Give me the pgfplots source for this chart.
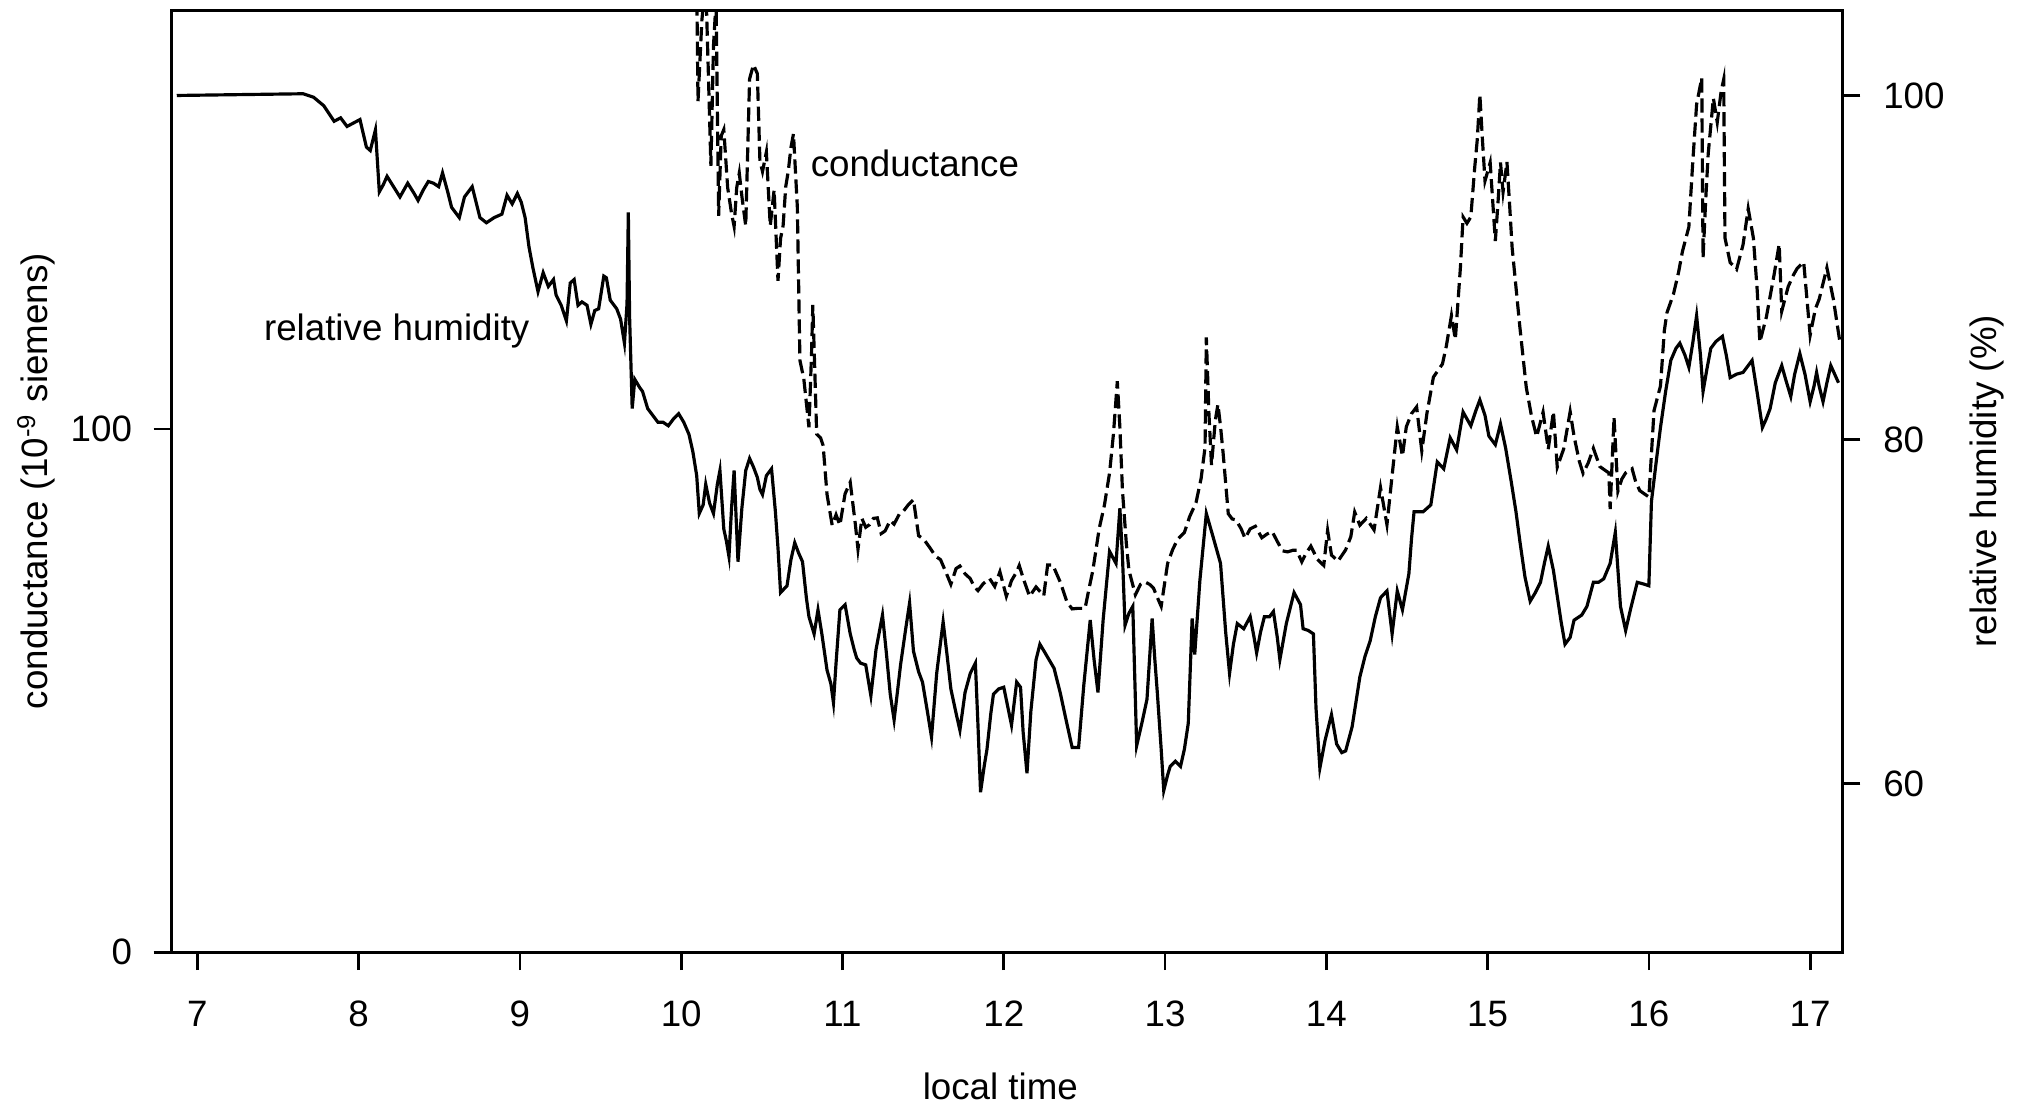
\documentclass[border=0pt]{standalone}
\usepackage{fontspec}
\setmainfont{Liberation Sans}
\usepackage{pgfplots}
\pgfplotsset{compat=1.18}
\usepackage{pgfplotstable}

\pgfplotstableread{
t rh
6.872 100.0
7.656 100.1
7.720 99.9
7.784 99.4
7.848 98.5
7.888 98.7
7.928 98.2
7.968 98.4
8.008 98.6
8.048 97.0
8.072 96.8
8.104 98.0
8.128 94.4
8.152 94.8
8.176 95.3
8.216 94.7
8.256 94.1
8.304 94.9
8.344 94.3
8.368 93.9
8.400 94.5
8.432 95.0
8.464 94.9
8.496 94.7
8.520 95.5
8.552 94.4
8.576 93.5
8.600 93.2
8.624 92.9
8.656 94.1
8.704 94.7
8.728 93.8
8.752 92.9
8.792 92.6
8.840 92.9
8.888 93.1
8.920 94.2
8.952 93.7
8.984 94.3
9.008 93.8
9.032 92.9
9.056 91.2
9.080 90.0
9.112 88.6
9.144 89.7
9.176 88.9
9.208 89.3
9.224 88.4
9.256 87.8
9.288 86.9
9.312 89.1
9.336 89.3
9.360 87.8
9.384 88.0
9.416 87.8
9.440 86.7
9.464 87.5
9.488 87.6
9.520 89.5
9.536 89.4
9.560 88.1
9.600 87.6
9.624 87.0
9.648 85.6
9.664 87.9
9.672 93.2
9.680 87.1
9.696 81.8
9.712 83.5
9.744 83.0
9.760 82.8
9.792 81.8
9.824 81.4
9.856 81.0
9.888 81.0
9.920 80.8
9.952 81.2
9.984 81.5
10.016 81.0
10.048 80.3
10.072 79.3
10.096 77.9
10.112 75.7
10.136 76.2
10.152 77.4
10.176 76.3
10.200 75.7
10.224 77.4
10.240 78.2
10.264 74.8
10.280 74.1
10.296 73.2
10.312 76.0
10.328 78.2
10.352 72.9
10.376 76.0
10.400 78.2
10.424 78.9
10.448 78.4
10.472 77.8
10.488 77.1
10.504 76.8
10.528 77.9
10.560 78.3
10.584 75.8
10.600 73.7
10.616 71.1
10.656 71.5
10.680 73.0
10.704 74.0
10.728 73.4
10.752 72.9
10.776 70.8
10.792 69.7
10.824 68.7
10.848 70.1
10.872 68.7
10.904 66.6
10.928 65.8
10.944 64.7
10.960 67.0
10.984 70.1
11.016 70.4
11.048 68.7
11.072 67.8
11.088 67.3
11.112 67.0
11.144 66.9
11.176 65.1
11.208 67.8
11.248 69.8
11.272 67.6
11.296 65.2
11.320 63.7
11.344 65.6
11.360 66.9
11.392 69.0
11.416 70.5
11.440 67.7
11.472 66.5
11.496 65.9
11.528 64.1
11.552 62.7
11.584 66.4
11.624 69.4
11.648 67.5
11.672 65.5
11.704 64.1
11.728 63.1
11.760 65.3
11.792 66.4
11.824 67.0
11.840 63.4
11.856 59.5
11.880 61.1
11.896 62.0
11.920 64.1
11.936 65.2
11.968 65.5
12.000 65.6
12.024 64.5
12.048 63.4
12.080 65.9
12.104 65.6
12.120 63.0
12.144 60.6
12.168 64.2
12.200 67.2
12.224 68.1
12.256 67.6
12.312 66.7
12.352 65.2
12.384 63.8
12.424 62.1
12.464 62.1
12.496 65.7
12.536 69.5
12.560 67.2
12.584 65.3
12.616 69.5
12.656 73.5
12.696 72.8
12.720 76.0
12.736 73.2
12.752 69.2
12.776 69.9
12.800 70.3
12.824 62.2
12.856 63.5
12.888 64.9
12.920 69.6
12.936 67.3
12.952 65.3
12.976 62.0
12.992 59.6
13.016 60.5
13.032 61.0
13.064 61.3
13.096 61.0
13.120 62.0
13.144 63.5
13.168 69.6
13.184 67.5
13.216 71.8
13.256 75.7
13.296 74.4
13.344 72.8
13.376 68.8
13.400 66.4
13.424 68.1
13.448 69.3
13.488 69.0
13.528 69.7
13.552 68.5
13.568 67.6
13.592 68.8
13.616 69.7
13.648 69.7
13.672 70.0
13.696 68.5
13.712 67.2
13.752 69.3
13.800 71.1
13.840 70.4
13.856 69.0
13.888 68.9
13.920 68.7
13.936 64.4
13.960 60.9
13.992 62.5
14.032 64.0
14.064 62.3
14.096 61.8
14.120 61.9
14.160 63.3
14.208 66.2
14.240 67.4
14.272 68.3
14.304 69.7
14.336 70.8
14.376 71.2
14.408 68.7
14.440 71.2
14.472 70.1
14.512 72.2
14.528 74.2
14.544 75.8
14.600 75.8
14.648 76.2
14.688 78.7
14.728 78.3
14.768 80.1
14.808 79.4
14.848 81.6
14.896 80.8
14.928 81.7
14.952 82.3
14.984 81.4
15.008 80.2
15.048 79.7
15.080 80.9
15.112 79.5
15.144 77.7
15.176 75.8
15.200 74.1
15.232 72.0
15.264 70.6
15.296 71.1
15.328 71.7
15.352 72.8
15.376 73.8
15.408 72.4
15.432 70.9
15.456 69.4
15.480 68.1
15.512 68.5
15.536 69.5
15.584 69.8
15.616 70.3
15.656 71.7
15.688 71.7
15.720 71.9
15.760 72.8
15.792 74.6
15.824 70.3
15.856 68.9
15.888 70.2
15.928 71.7
15.968 71.6
16.000 71.5
16.016 76.4
16.048 78.9
16.072 80.7
16.104 82.8
16.136 84.6
16.168 85.3
16.192 85.6
16.224 84.9
16.248 84.2
16.272 85.6
16.296 87.2
16.320 84.9
16.336 82.8
16.360 84.1
16.384 85.3
16.416 85.7
16.456 86.0
16.480 84.9
16.504 83.6
16.544 83.8
16.584 83.9
16.616 84.3
16.640 84.6
16.672 82.7
16.704 80.7
16.728 81.2
16.752 81.8
16.784 83.3
16.824 84.3
16.848 83.5
16.880 82.5
16.904 83.8
16.936 85.0
16.968 83.8
17.000 82.2
17.024 83.1
17.040 83.9
17.056 83.1
17.080 82.2
17.104 83.3
17.128 84.3
17.152 83.8
17.176 83.3
}\rhdata

\pgfplotstableread{
t c
10.096 185.5
10.104 162.6
10.128 178.1
10.152 185.5
10.168 168.3
10.184 150.3
10.200 173.2
10.216 181.8
10.232 140.7
10.248 156.0
10.264 157.2
10.288 146.1
10.312 141.2
10.328 138.7
10.344 146.1
10.360 148.9
10.376 144.5
10.400 138.8
10.424 166.9
10.448 169.6
10.472 167.9
10.488 151.2
10.504 149.2
10.528 152.9
10.552 138.8
10.576 145.7
10.600 128.3
10.616 136.4
10.632 138.9
10.648 146.3
10.664 149.3
10.680 153.7
10.696 156.4
10.720 142.4
10.736 113.1
10.760 109.6
10.792 100.3
10.808 114.3
10.816 123.7
10.840 99.0
10.864 98.3
10.880 96.8
10.904 87.5
10.936 81.6
10.960 83.6
10.984 81.6
11.016 87.6
11.048 89.8
11.080 81.7
11.096 77.0
11.120 82.9
11.144 81.2
11.168 81.7
11.192 82.9
11.216 83.0
11.240 80.0
11.264 80.5
11.296 82.5
11.320 81.8
11.352 83.7
11.376 84.2
11.408 85.5
11.440 86.5
11.472 79.6
11.504 78.9
11.544 77.2
11.576 75.7
11.608 75.0
11.640 72.7
11.672 70.3
11.704 73.3
11.728 73.8
11.760 72.3
11.792 71.4
11.816 69.9
11.840 69.1
11.872 70.4
11.912 71.4
11.944 69.9
11.976 72.7
12.016 68.0
12.048 71.0
12.080 72.7
12.096 73.9
12.120 71.5
12.160 68.0
12.200 69.8
12.248 68.1
12.272 74.0
12.304 74.0
12.352 70.6
12.392 66.9
12.424 65.6
12.456 65.7
12.504 65.7
12.528 69.4
12.552 72.9
12.592 81.0
12.624 85.4
12.656 91.6
12.680 99.0
12.704 109.1
12.720 100.3
12.736 88.2
12.760 78.1
12.776 73.0
12.816 68.3
12.848 70.3
12.872 70.8
12.904 70.3
12.928 69.6
12.952 67.8
12.976 66.1
13.016 74.3
13.048 77.0
13.080 79.0
13.120 80.2
13.152 83.2
13.192 85.9
13.224 90.6
13.248 96.5
13.256 117.5
13.272 103.0
13.288 93.1
13.312 101.7
13.328 104.7
13.344 100.5
13.360 95.4
13.392 83.8
13.416 82.8
13.440 82.6
13.472 80.9
13.496 79.1
13.528 80.9
13.560 81.4
13.600 79.2
13.632 79.9
13.664 80.4
13.696 78.5
13.728 76.7
13.760 76.5
13.792 76.8
13.816 76.8
13.848 74.6
13.872 76.1
13.904 77.6
13.944 75.1
13.984 73.9
14.008 80.6
14.032 75.9
14.072 74.7
14.120 76.9
14.152 79.4
14.176 84.1
14.208 81.6
14.248 82.9
14.296 80.7
14.336 88.8
14.376 81.7
14.408 91.1
14.440 100.4
14.472 94.8
14.496 100.4
14.528 102.9
14.560 104.2
14.592 95.8
14.624 103.0
14.664 109.9
14.720 112.4
14.744 115.8
14.776 121.7
14.800 117.1
14.832 131.1
14.848 140.5
14.872 139.3
14.896 140.5
14.920 149.9
14.936 155.3
14.952 163.9
14.968 155.3
14.984 147.4
15.016 150.9
15.048 135.9
15.064 143.0
15.080 150.9
15.096 145.3
15.120 151.0
15.136 143.1
15.152 134.7
15.176 127.1
15.200 119.5
15.240 107.9
15.272 102.5
15.304 98.5
15.344 103.2
15.376 96.1
15.408 103.3
15.432 92.7
15.472 96.2
15.512 103.3
15.536 98.6
15.568 93.9
15.592 91.5
15.624 93.5
15.656 96.3
15.696 92.8
15.728 92.1
15.752 91.6
15.760 84.7
15.784 102.2
15.808 88.1
15.832 90.4
15.856 91.6
15.896 92.4
15.920 89.7
15.944 88.2
15.976 87.5
16.000 87.0
16.032 103.5
16.072 108.2
16.096 118.8
16.112 122.2
16.152 125.7
16.184 129.9
16.208 133.9
16.248 138.6
16.272 150.9
16.296 162.0
16.328 167.1
16.336 132.7
16.352 143.5
16.368 152.6
16.400 163.2
16.424 158.6
16.448 164.5
16.464 166.8
16.472 136.5
16.504 131.8
16.544 130.5
16.584 135.2
16.616 142.1
16.648 136.5
16.672 126.4
16.688 116.6
16.728 121.3
16.776 129.4
16.808 135.3
16.824 122.5
16.864 127.2
16.896 129.4
16.920 130.7
16.960 131.9
17.000 117.9
17.032 122.9
17.056 124.8
17.104 130.8
17.144 124.8
17.184 116.7
}\conddata

\begin{document}
\fontsize{8.1}{9.7}\selectfont
\begin{tikzpicture}
\begin{axis}[
  at={(0,0)}, anchor=south west, scale only axis,
  width=129.5mm, height=73mm,
  xmin=6.84, xmax=17.2, ymin=0, ymax=180,
  xtick={7,8,...,17}, ytick={0,100},
  xtick pos=bottom, ytick pos=left,
  tick align=outside, major tick length=1.4mm,
  axis line style={line width=0.6pt},
  every tick/.style={black, line width=0.6pt},
  /pgf/number format/assume math mode=true,
  xticklabel style={anchor=north, inner sep=0pt, yshift=-2.3mm},
  yticklabel style={anchor=east, inner sep=0pt, xshift=-1.6mm},
  xlabel={local time},
  ylabel={conductance (10\textsuperscript{-9} siemens)},
  every axis x label/.style={at={(axis description cs:0.496,-0.142)}, anchor=center},
  every axis y label/.style={at={(axis description cs:-0.081,0.5)}, anchor=center, rotate=90},
]
\addplot[black, line width=0.7pt, dash pattern=on 1.1mm off 0.45mm] table[x=t,y=c]{\conddata};
\node[anchor=west, inner sep=0pt] at (rel axis cs:0.382,0.838) {conductance};
\node[anchor=west, inner sep=0pt] at (rel axis cs:0.0548,0.659) {relative humidity};
\end{axis}
\begin{axis}[
  at={(0,0)}, anchor=south west, scale only axis,
  width=129.5mm, height=73mm,
  xmin=6.84, xmax=17.2, ymin=50.2, ymax=104.95,
  axis x line=none, axis y line*=right,
  ytick={60,80,100},
  tick align=outside, major tick length=1.4mm,
  axis line style={line width=0.6pt},
  every tick/.style={black, line width=0.6pt},
  /pgf/number format/assume math mode=true,
  yticklabel style={anchor=west, inner sep=0pt, xshift=1.7mm},
  ylabel={relative humidity (\%)},
  every axis y label/.style={at={(axis description cs:1.0865,0.5)}, anchor=center, rotate=90},
]
\addplot[black, line width=0.7pt] table[x=t,y=rh]{\rhdata};
\end{axis}
\pgfresetboundingbox
\path (-13.3mm,-12.5mm) rectangle (143.5mm,73.8mm);
\end{tikzpicture}
\end{document}
